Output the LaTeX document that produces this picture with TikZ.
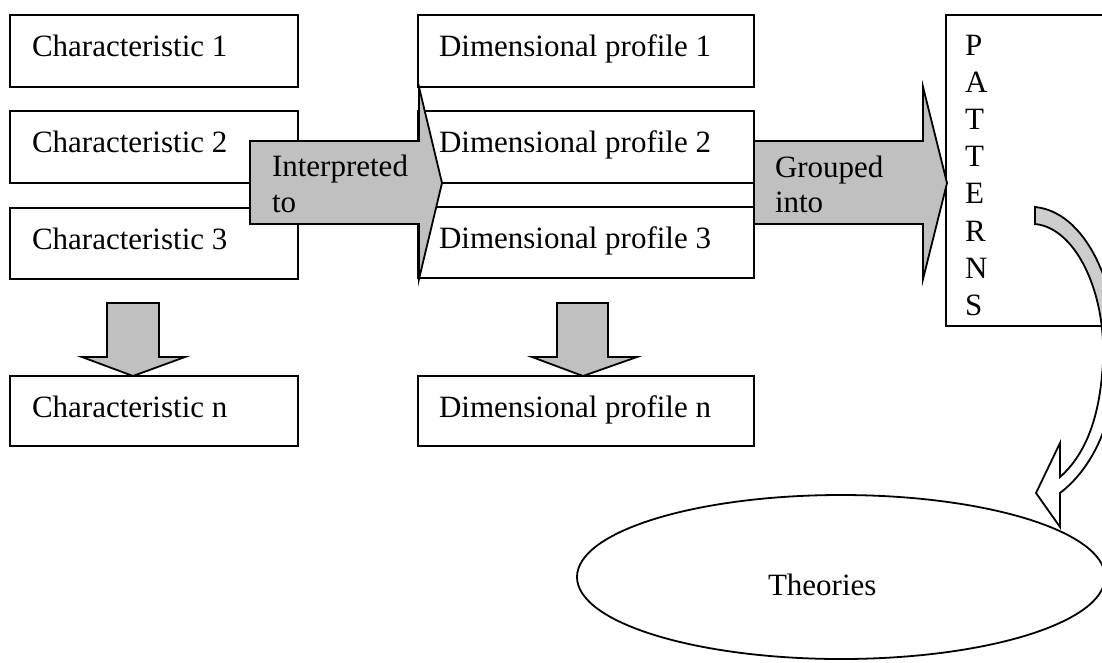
\documentclass[tikz,border=0pt]{standalone}
\usepackage{fontspec}
\setmainfont{Liberation Serif}
\usetikzlibrary{shapes.geometric}
\definecolor{blockgray}{HTML}{C0C0C0}
\definecolor{bendgray}{HTML}{CDCDCD}
\begin{document}
\begin{tikzpicture}[x=1pt,y=-1pt,
  every node/.style={inner sep=0pt,outer sep=0pt},
  lw/.style={line width=1.8pt},
  box/.style={lw,draw,fill=white,rectangle,anchor=north west},
  cbox/.style={box,minimum width=288pt},
  dbox/.style={box,minimum width=336pt},
  txt/.style={anchor=base west,font=\fontsize{31}{36}\selectfont},
  blockarrow/.style={lw,draw,fill=blockgray,line join=miter},
]
\useasboundingbox (0,0) rectangle (1102,662);
\clip (0,0) rectangle (1102,662);

% characteristic boxes
\node[cbox,minimum height=72pt] (c1) at (10,15) {};
\node[cbox,minimum height=72pt] (c2) at (10,111) {};
\node[cbox,minimum height=71pt] (c3) at (10,208) {};
\node[cbox,minimum height=70pt] (cn) at (10,376) {};
\node[txt] (t1) at (32,56) {Characteristic 1};
\node[txt] (t2) at (32,152) {Characteristic 2};
\node[txt] (t3) at (32,249) {Characteristic 3};
\node[txt] (tn) at (32,417) {Characteristic n};

% dimensional profile boxes
\node[dbox,minimum height=72pt] (d1) at (418,15) {};
\node[dbox,minimum height=72pt] (d2) at (418,111) {};
\node[dbox,minimum height=71pt] (d3) at (418,207) {};
\node[dbox,minimum height=70pt] (dn) at (418,376) {};
\node[txt] (u1) at (439,56) {Dimensional profile 1};
\node[txt] (u2) at (439,152) {Dimensional profile 2};
\node[txt] (u3) at (439,248) {Dimensional profile 3};
\node[txt] (un) at (439,417) {Dimensional profile n};

% patterns box
\node[box,minimum width=200pt,minimum height=311pt] (pat) at (946,15) {};
\foreach \ch [count=\i from 0] in {P,A,T,T,E,R,N,S}
  \node[txt] (pl\i) at (965,{55+37.2*\i}) {\ch};

% block arrow: interpreted to
\draw[blockarrow] (250,141) -- (419,141) -- (419,87) -- (442,183)
  -- (419,279) -- (419,224) -- (250,224) -- cycle;
\node[txt] (i1) at (272,176) {Interpreted};
\node[txt] (i2) at (272,212) {to};

% block arrow: grouped into
\draw[blockarrow] (754,141) -- (923,141) -- (923,87) -- (947,183)
  -- (923,279) -- (923,224) -- (754,224) -- cycle;
\node[txt] (g1) at (775,177) {Grouped};
\node[txt] (g2) at (775,212) {into};

% downward arrows
\draw[blockarrow] (107,303) -- (159,303) -- (159,357) -- (185,357)
  -- (133,376) -- (82,357) -- (107,357) -- cycle;
\draw[blockarrow] (557,303) -- (608,303) -- (608,357) -- (637,357)
  -- (583,376) -- (532,357) -- (557,357) -- cycle;

% curved arrow from patterns to theories
\def\bendpath{(1035,207) .. controls (1090,212) and (1125,300) .. (1115,380)
  .. controls (1110,430) and (1090,470) .. (1060,493)
  -- (1060,527) -- (1036,493) -- (1060,443) -- (1060,477)
  .. controls (1085,455) and (1098,420) .. (1102,375)
  .. controls (1110,300) and (1078,228) .. (1035,224) -- cycle}
\fill[white] \bendpath;
\begin{scope}
  \clip (940,0) rectangle (1102,326);
  \fill[bendgray] \bendpath;
\end{scope}
\draw[lw,line join=miter] \bendpath;

% theories ellipse
\node[lw,draw,ellipse,minimum width=528pt,minimum height=164pt] (th) at (841,577) {};
\node[txt] (tt) at (768,595) {Theories};
\end{tikzpicture}
\end{document}
